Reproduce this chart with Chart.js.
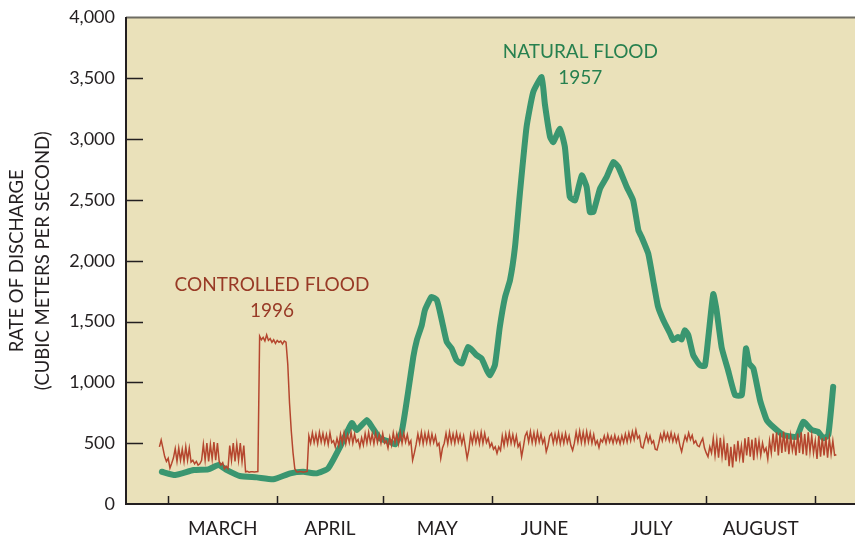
<!DOCTYPE html>
<html>
<head>
<meta charset="utf-8">
<script src="https://cdn.jsdelivr.net/npm/chart.js@4.4.1/dist/chart.umd.min.js"></script>
<style>
  html, body { margin: 0; padding: 0; background: #ffffff; }
  canvas { display: block; }
</style>
</head>
<body>
<canvas id="c" width="855" height="537"></canvas>
<script>
// ---------- DATA (x = days since 1 March, y = cubic metres per second) ----------
const monthNames  = ['MARCH', 'APRIL', 'MAY', 'JUNE', 'JULY', 'AUGUST'];
const monthMid    = [15.5, 46, 76.5, 107, 137.5, 168.5];
const monthStarts = [0, 31, 61, 92, 122, 153, 184];
const yTicks      = [0, 500, 1000, 1500, 2000, 2500, 3000, 3500, 4000];

// Natural flood 1957 (daily means)
const naturalDays = [-1.8, 2.0, 7.2, 11.4, 14.3, 16.7, 20.4, 25.2, 29.9, 34.7, 38.4, 42.2, 45.5, 48.9,
  52.2, 53.6, 56.5, 57.9, 60.2, 63.1, 64.5, 66.4, 68.3, 69.7, 70.7, 72.1, 73.0, 74.9, 76.4, 77.8,
  79.2, 80.6, 82.0, 83.5, 85.3, 87.7, 89.1, 90.6, 91.5, 92.9, 94.3, 95.8, 97.2, 98.6, 100.0, 101.9,
  103.8, 106.2, 107.1, 108.6, 109.5, 111.4, 112.8, 114.2, 115.7, 117.6, 119.0, 119.9, 120.9, 122.8,
  124.7, 126.6, 128.0, 130.4, 132.2, 133.7, 134.6, 136.5, 137.9, 139.3, 140.8, 142.7, 143.6, 145.0,
  146.0, 146.9, 147.9, 149.3, 151.2, 152.6, 153.6, 155.0, 155.9, 157.4, 159.2, 161.2, 163.1, 164.3,
  165.2, 166.4, 168.3, 170.2, 172.0, 174.9, 178.7, 180.6, 183.0, 184.8, 186.3, 187.7, 189.1];
const naturalFlow = [265, 238, 279, 285, 320, 279, 230, 219, 203, 252, 265, 252, 293, 471,
  665, 608, 690, 635, 540, 512, 490, 594, 936, 1210, 1347, 1470, 1594, 1703, 1676, 1511,
  1333, 1279, 1183, 1155, 1292, 1224, 1197, 1101, 1060, 1142, 1456, 1703, 1840, 2110, 2552, 3099,
  3387, 3510, 3291, 3017, 2976, 3086, 2935, 2524, 2497, 2702, 2606, 2401, 2401, 2593,
  2689, 2812, 2771, 2606, 2497, 2251, 2196, 2059, 1840, 1621, 1511, 1402, 1347, 1374,
  1353, 1429, 1388, 1224, 1142, 1135, 1374, 1725, 1600, 1285, 1101, 895, 895, 1279,
  1155, 1115, 854, 690, 635, 567, 553, 676, 608, 594, 540, 567, 963];

// Controlled flood 1996 (readings every half day), one array per stretch with its first day
const redMarchStart = -2.5;
const redMarch = [470,526,460,390,350,376,295,335,380, 455,350,460,360,450,350,470,360,460,345,
  360,330,350,320,330,360, 490,360,500,350,490,370,510,360,500,350, 320,340,290,310,290,
  480,360,500,350,490,360,500,350,480];
const redFloodStart = 22;
const redFlood = [265,268,262,265,266,264,265,266,
  1380,1350,1370,1340,1390,1345,1360,1330,1350,1320,1345,1330,1340,1315,1340,1330,
  1150,830,600,420,290, 265,263,268,265,262,266,268];
const redAprilStart = 40;
const redApril = [560,500,585,505,575,495,590,510,580,500, 570,490,585,505,520,470,540,480,575,500,
  585,495,570,505,590,500,575,510,530,470, 545,485,580,500,590,505,575,495,585,505,
  570,500,580,500,520,460,550,485,585,505, 575,495,590,500,580,510,570,490,520,361];
const redMayStart = 70;
const redMay = [420,490,575,500,590,495,580,505,585,500, 575,505,560,480,500,375,460,500,580,495,
  590,505,575,500,585,510,570,495,560,470, 375,450,570,500,585,505,575,495,590,500,
  580,505,540,470,500,450,470,416,470,440, 560,480,575,495,585,500,570,490,560,470];
const redJuneStart = 100;
const redJune = [500,389,470,560,590,510,595,505,585,500, 590,510,575,500,540,430,480,560,580,500,
  575,505,585,495,570,500,580,505,560,480, 441,500,590,510,600,505,590,500,595,510,
  585,500,570,490,520,465,530,510,560,500, 570,510,555,500,565,505,550,495,560,505];
const redJulyStart = 130;
const redJuly = [575,510,585,520,595,530,608,540,560,470, 460,520,575,510,560,500,520,450,444,500,
  570,520,590,530,580,520,585,515,570,510, 560,480,430,500,560,520,585,530,565,500,
  520,480,471,510,540,460,420,389,470,420, 540,400,530,380,545,390,520,360,500,310];
const redAugustStart = 160;
const redAugust = [470,300,490,350,520,380,480,340,540,400, 550,390,530,360,545,410,520,400,500,430,
  460,370,520,420,580,430,590,400,585,420, 595,430,570,410,560,440,520,400,580,420,
  590,410,575,400,590,430,560,420,520,370, 560,390,540,400,550,380,540,410,520,400,405];

// Text notes placed in data space
const noteLabels = [['CONTROLLED FLOOD', '1996'], ['NATURAL FLOOD', '1957']];
const noteDays   = [29.5, 117.2];
const noteFlows  = [1800, 3720];

// ---------- BUILD ----------
const STEP = 0.5;
function stretch(start, vals) { return vals.map((v, i) => ({ x: start + i * STEP, y: v })); }
const controlledPts = [].concat(
  stretch(redMarchStart, redMarch), stretch(redFloodStart, redFlood),
  stretch(redAprilStart, redApril), stretch(redMayStart, redMay),
  stretch(redJuneStart, redJune), stretch(redJulyStart, redJuly),
  stretch(redAugustStart, redAugust));
const naturalPts = naturalDays.map((d, i) => ({ x: d, y: naturalFlow[i] }));

const FONT = 'Lato, "Open Sans", sans-serif';
const INK = '#231F20';
const BEIGE = '#EAE1BA';
const RED = '#B5462E', RED_TEXT = '#983A26';
const GREEN = '#3A9670', GREEN_TEXT = '#27804F';
const noteColors = [RED_TEXT, GREEN_TEXT];

const framePlugin = {
  id: 'frame',
  beforeDraw(chart) {
    const { ctx, chartArea: a } = chart;
    ctx.save();
    ctx.fillStyle = BEIGE;
    ctx.fillRect(a.left, a.top, a.right - a.left, a.bottom - a.top);
    ctx.strokeStyle = '#6E6C63';
    ctx.lineWidth = 2;
    ctx.beginPath();
    ctx.moveTo(a.left, a.top);
    ctx.lineTo(a.right, a.top);
    ctx.stroke();
    ctx.restore();
  },
  afterDraw(chart) {
    const { ctx, chartArea: a, scales: { x, y } } = chart;
    ctx.save();
    ctx.strokeStyle = INK;
    ctx.lineWidth = 1.5;
    ctx.beginPath();
    yTicks.slice(1, -1).forEach(v => {
      const py = Math.round(y.getPixelForValue(v)) + 0.5;
      ctx.moveTo(a.left, py); ctx.lineTo(a.left + 17, py);
    });
    monthStarts.forEach(d => {
      const px = Math.round(x.getPixelForValue(d)) + 0.5;
      ctx.moveTo(px, a.bottom); ctx.lineTo(px, a.bottom - 8);
    });
    ctx.stroke();
    ctx.restore();
  }
};

const notePlugin = {
  id: 'notes',
  afterDatasetsDraw(chart) {
    const { ctx, scales: { x, y } } = chart;
    ctx.save();
    ctx.font = '19px ' + FONT;
    ctx.textAlign = 'center';
    ctx.textBaseline = 'middle';
    noteLabels.forEach((lines, i) => {
      ctx.fillStyle = noteColors[i];
      const px = x.getPixelForValue(noteDays[i]);
      const py = y.getPixelForValue(noteFlows[i]);
      lines.forEach((t, k) => ctx.fillText(t, px, py + k * 26));
    });
    ctx.restore();
  }
};

new Chart(document.getElementById('c'), {
  type: 'line',
  data: {
    datasets: [
      { label: 'Controlled flood 1996', data: controlledPts, borderColor: RED, borderWidth: 1.5,
        pointRadius: 0, tension: 0, fill: false },
      { label: 'Natural flood 1957', data: naturalPts, borderColor: GREEN, borderWidth: 6,
        pointRadius: 0, tension: 0.15, fill: false, borderJoinStyle: 'round', borderCapStyle: 'round' }
    ]
  },
  options: {
    responsive: false,
    animation: false,
    devicePixelRatio: 1,
    layout: { padding: { top: 17.5, right: 0, bottom: 0, left: 0 } },
    plugins: { legend: { display: false }, tooltip: { enabled: false } },
    scales: {
      x: {
        type: 'linear', min: -12, max: 195.3,
        afterBuildTicks: s => { s.ticks = monthMid.map(v => ({ value: v })); },
        afterFit: s => { s.height = 33; s.paddingLeft = 0; s.paddingRight = 0; },
        ticks: {
          autoSkip: false, maxRotation: 0, padding: 13, color: INK,
          font: { family: FONT, size: 19 },
          callback: v => monthNames[monthMid.indexOf(v)]
        },
        grid: { display: false, drawTicks: false },
        border: { display: true, color: INK, width: 2 }
      },
      y: {
        min: 0, max: 4000,
        afterBuildTicks: s => { s.ticks = yTicks.map(v => ({ value: v })); },
        afterFit: s => { s.width = 126; s.paddingTop = 0; s.paddingBottom = 0; },
        ticks: {
          padding: 11, color: INK, font: { family: FONT, size: 18 },
          callback: v => v.toLocaleString('en-US')
        },
        grid: { display: false, drawTicks: false },
        border: { display: true, color: INK, width: 2 },
        title: {
          display: true, text: ['RATE OF DISCHARGE', '(CUBIC METERS PER SECOND)'],
          color: INK, font: { family: FONT, size: 18.5, lineHeight: 1.42 }, padding: { top: 4, bottom: 0 }
        }
      }
    }
  },
  plugins: [framePlugin, notePlugin]
});
</script>
</body>
</html>
